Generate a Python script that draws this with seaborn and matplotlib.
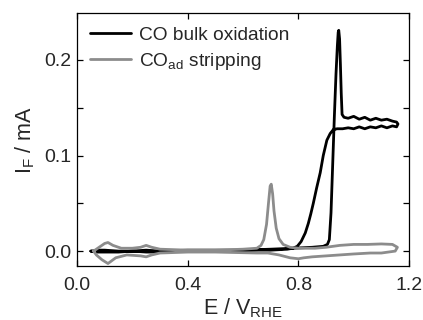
import numpy as np
import pandas as pd
import matplotlib
matplotlib.use("Agg")
import matplotlib.pyplot as plt
from matplotlib.ticker import MultipleLocator, FixedLocator
import seaborn as sns

# CO bulk oxidation (black) - closed CV loop, forward then reverse
bulk_E = [0.05, 0.08, 0.10, 0.15, 0.20, 0.25, 0.30, 0.40, 0.50, 0.60, 0.70, 0.78, 0.85, 0.89,
          0.905, 0.912, 0.918, 0.924, 0.930, 0.936, 0.941, 0.944, 0.946, 0.949, 0.952, 0.955,
          0.958, 0.965, 0.98, 1.00, 1.02, 1.04, 1.06, 1.08, 1.10, 1.12, 1.14, 1.155, 1.160,
          1.155, 1.14, 1.12, 1.10, 1.08, 1.06, 1.04, 1.02, 1.00, 0.98, 0.96, 0.94, 0.926,
          0.915, 0.903, 0.890, 0.879, 0.866, 0.854, 0.845, 0.836, 0.825, 0.810, 0.796, 0.780,
          0.76, 0.70, 0.60, 0.50, 0.40, 0.30, 0.25, 0.20, 0.15, 0.10, 0.07, 0.05]
bulk_I = [0.000, 0.001, 0.001, 0.000, 0.000, 0.001, 0.000, 0.001, 0.001, 0.001, 0.002, 0.003, 0.004, 0.005,
          0.007, 0.012, 0.040, 0.090, 0.140, 0.185, 0.215, 0.229, 0.231, 0.222, 0.195, 0.165,
          0.143, 0.140, 0.139, 0.141, 0.138, 0.140, 0.137, 0.139, 0.137, 0.138, 0.136, 0.135, 0.133,
          0.130, 0.131, 0.129, 0.131, 0.129, 0.130, 0.128, 0.130, 0.128, 0.129, 0.128, 0.128, 0.127,
          0.123, 0.116, 0.100, 0.082, 0.066, 0.050, 0.039, 0.029, 0.019, 0.010, 0.005, 0.003,
          0.002, 0.001, 0.001, 0.000, 0.000, -0.001, -0.001, 0.000, -0.001, -0.001, -0.001, 0.000]

# CO_ad stripping (grey) - closed CV loop
strip_E = [0.06, 0.08, 0.10, 0.112, 0.13, 0.16, 0.20, 0.23, 0.25, 0.27, 0.30, 0.40, 0.50, 0.60,
           0.65, 0.665, 0.675, 0.685, 0.692, 0.698, 0.702, 0.707, 0.712, 0.72, 0.73, 0.745, 0.77,
           0.80, 0.86, 0.90, 0.95, 1.00, 1.05, 1.10, 1.14, 1.158,
           1.15, 1.10, 1.06, 1.00, 0.95, 0.90, 0.85, 0.82, 0.80, 0.77, 0.73, 0.69, 0.65, 0.50,
           0.40, 0.30, 0.27, 0.25, 0.23, 0.18, 0.14, 0.112, 0.09, 0.07, 0.06]
strip_I = [0.000, 0.004, 0.008, 0.009, 0.006, 0.003, 0.003, 0.004, 0.006, 0.004, 0.002, 0.001, 0.001, 0.002,
           0.003, 0.006, 0.012, 0.028, 0.050, 0.068, 0.070, 0.060, 0.042, 0.024, 0.013, 0.007, 0.004,
           0.003, 0.003, 0.004, 0.006, 0.007, 0.007, 0.0075, 0.007, 0.004,
           0.000, -0.002, -0.002, -0.003, -0.004, -0.005, -0.006, -0.007, -0.008, -0.007, -0.004, -0.002, -0.002, -0.001,
           -0.001, -0.002, -0.004, -0.006, -0.005, -0.004, -0.007, -0.013, -0.009, -0.004, 0.000]

series_labels = ["CO bulk oxidation", "CO$_{ad}$ stripping"]
series_colors = ["#000000", "#8c8c8c"]
x_ticks = [0.0, 0.4, 0.8, 1.2]
y_ticks = [0.0, 0.1, 0.2]

sns.set_style("ticks")
plt.rcParams["font.family"] = ["Liberation Sans", "DejaVu Sans"]
plt.rcParams["mathtext.fontset"] = "custom"
plt.rcParams["mathtext.rm"] = "Liberation Sans"
plt.rcParams["mathtext.default"] = "regular"

df = pd.concat([
    pd.DataFrame({"E": bulk_E, "I": bulk_I, "s": series_labels[0], "o": range(len(bulk_E))}),
    pd.DataFrame({"E": strip_E, "I": strip_I, "s": series_labels[1], "o": range(len(strip_E))}),
])

fig = plt.figure(figsize=(4.23, 3.2), dpi=100)
ax = fig.add_axes([0.182, 0.169, 0.785, 0.790])

for lab, col in zip(series_labels, series_colors):
    sub = df[df["s"] == lab]
    sns.lineplot(data=sub, x="E", y="I", sort=False, estimator=None, color=col,
                 lw=2.0, ax=ax, label=lab)

ax.set_xlim(0.0, 1.2)
ax.set_ylim(-0.0155, 0.249)
ax.xaxis.set_major_locator(FixedLocator(x_ticks))
ax.yaxis.set_major_locator(FixedLocator(y_ticks))
ax.yaxis.set_minor_locator(MultipleLocator(0.05))
ax.set_xticklabels(["0.0", "0.4", "0.8", "1.2"])
ax.set_yticklabels(["0.0", "0.1", "0.2"])
ax.tick_params(which="both", direction="in", top=True, right=True, length=4, width=0.9,
               labelsize=14, color="black")
ax.tick_params(axis="x", pad=8)
ax.tick_params(axis="y", pad=4)
for sp in ax.spines.values():
    sp.set_linewidth(0.9)
    sp.set_color("black")

ax.set_xlabel("E / V$_{RHE}$", fontsize=15.5, labelpad=2)
ax.set_ylabel("I$_{F}$ / mA", fontsize=15.5, labelpad=5)

leg = ax.legend(loc="upper left", bbox_to_anchor=(0.009, 0.986), frameon=False, fontsize=13.8,
                handlelength=2.15, handletextpad=0.4, labelspacing=0.35, borderaxespad=0.12)
for h in leg.get_lines():
    h.set_linewidth(2.0)

fig.savefig("out.png", dpi=100)
